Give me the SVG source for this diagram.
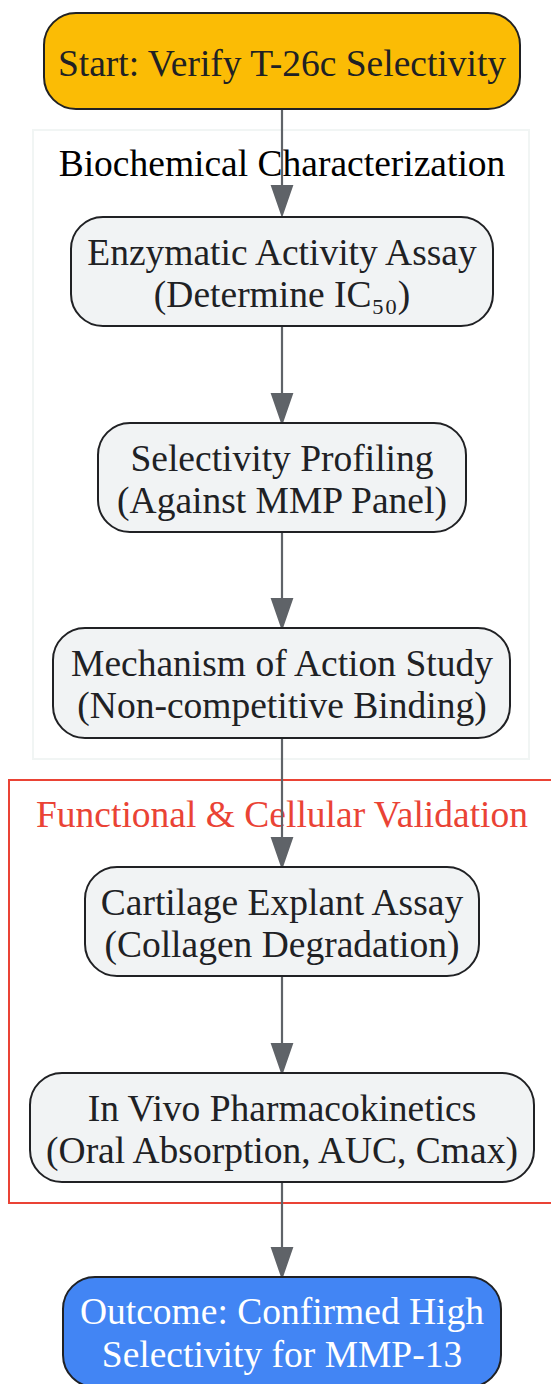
<svg xmlns="http://www.w3.org/2000/svg" width="551" height="1384" viewBox="0 0 551 1384">
<defs>
<style>
.node{fill:#f1f3f4;stroke:#202124;stroke-width:2}
.t{font-family:"Liberation Serif","Times New Roman",serif;font-size:37.5px;text-anchor:middle;fill:#202124}
.edge{stroke:#5f6368;stroke-width:2.2;fill:none}
.ah{fill:#5f6368;stroke:#5f6368;stroke-width:2}
</style>
</defs>
<rect width="551" height="1384" fill="#ffffff"/>
<g id="cluster_bio">
<rect x="33" y="130" width="496" height="629" fill="#ffffff" stroke="#f1f5f4" stroke-width="2"/>
<text class="t" x="282" y="176" style="fill:#000">Biochemical Characterization</text>
</g>
<g id="cluster_func">
<rect x="9" y="780" width="560" height="423" fill="none" stroke="#ea4335" stroke-width="2"/>
<text class="t" x="282" y="827" style="fill:#ea4335">Functional &amp; Cellular Validation</text>
</g>
<g id="connectors">
<path class="edge" d="M282 109V186"/><polygon class="ah" points="272,186 292,186 282,215"/>
<path class="edge" d="M282 326V394"/><polygon class="ah" points="272,394 292,394 282,423"/>
<path class="edge" d="M282 532V599"/><polygon class="ah" points="272,599 292,599 282,628"/>
<path class="edge" d="M282 738V838"/><polygon class="ah" points="272,838 292,838 282,867"/>
<path class="edge" d="M282 976V1044"/><polygon class="ah" points="272,1044 292,1044 282,1073"/>
<path class="edge" d="M282 1182V1248"/><polygon class="ah" points="272,1248 292,1248 282,1277"/>
</g>
<g id="start">
<rect x="44" y="13" width="476" height="96" rx="32" fill="#fbbc05" stroke="#202124" stroke-width="2"/>
<text class="t" x="282" y="76">Start: Verify T-26c Selectivity</text>
</g>
<g id="enzymatic">
<rect class="node" x="71" y="217" width="422" height="109" rx="32"/>
<text class="t" x="282" y="265">Enzymatic Activity Assay</text>
<text class="t" x="282" y="307">(Determine IC₅₀)</text>
</g>
<g id="selectivity">
<rect class="node" x="98" y="423" width="368" height="109" rx="32"/>
<text class="t" x="282" y="471">Selectivity Profiling</text>
<text class="t" x="282" y="513">(Against MMP Panel)</text>
</g>
<g id="mechanism">
<rect class="node" x="53" y="628" width="457" height="110" rx="32"/>
<text class="t" x="282" y="676">Mechanism of Action Study</text>
<text class="t" x="282" y="718">(Non-competitive Binding)</text>
</g>
<g id="cartilage">
<rect class="node" x="85" y="867" width="394" height="109" rx="32"/>
<text class="t" x="282" y="915">Cartilage Explant Assay</text>
<text class="t" x="282" y="957">(Collagen Degradation)</text>
</g>
<g id="invivo">
<rect class="node" x="30" y="1073" width="504" height="109" rx="32"/>
<text class="t" x="282" y="1121">In Vivo Pharmacokinetics</text>
<text class="t" x="282" y="1163">(Oral Absorption, AUC, Cmax)</text>
</g>
<g id="outcome">
<rect x="63" y="1277" width="438" height="110" rx="32" fill="#4285f4" stroke="#202124" stroke-width="2"/>
<text class="t" x="282" y="1324" style="fill:#ffffff">Outcome: Confirmed High</text>
<text class="t" x="282" y="1367" style="fill:#ffffff">Selectivity for MMP-13</text>
</g>
</svg>
